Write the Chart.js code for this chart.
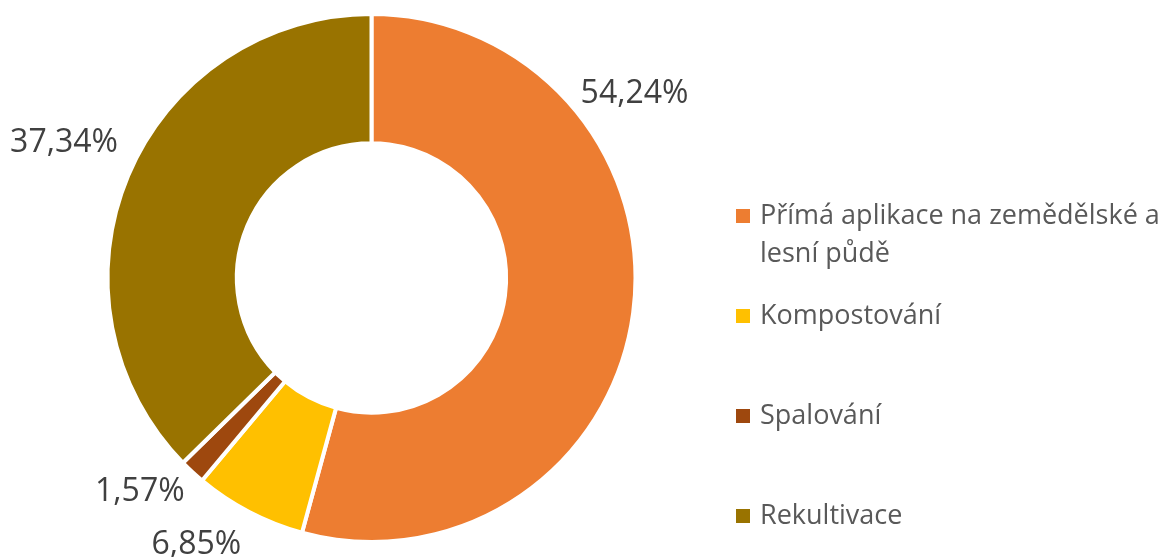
<!DOCTYPE html>
<html lang="cs">
<head>
<meta charset="utf-8">
<title>Nakládání s kaly</title>
<script src="https://cdn.jsdelivr.net/npm/chart.js@4/dist/chart.umd.min.js"></script>
<style>
  html, body { margin: 0; padding: 0; background: #fff; }
  #wrap { width: 1173px; height: 557px; }
</style>
</head>
<body>
<div id="wrap"><canvas id="kalyChart" width="1173" height="557"></canvas></div>
<script>
const categories = ['Přímá aplikace na zemědělské a lesní půdě', 'Kompostování', 'Spalování', 'Rekultivace'];
const legendLines = [['Přímá aplikace na zemědělské a', 'lesní půdě'], ['Kompostování'], ['Spalování'], ['Rekultivace']];
const shares = [54.24, 6.85, 1.57, 37.34];
const colors = ['#ED7D31', '#FFC000', '#9E480E', '#997300'];

const FONT = '"Open Sans", "Noto Sans", sans-serif';

// popisky procent vně prstence (úhel posunut u velkého dílu, jako v Excelu)
const labelShift = [-42.6, 5.7, 4.6, 1.0];
const labelGap = [57, 55, 51, 72];

const percentLabels = {
  id: 'percentLabels',
  afterDatasetsDraw(chart) {
    const ctx = chart.ctx;
    const meta = chart.getDatasetMeta(0);
    ctx.save();
    ctx.font = '32px ' + FONT;
    ctx.fillStyle = '#404040';
    ctx.textAlign = 'center';
    ctx.textBaseline = 'middle';
    meta.data.forEach((arc, i) => {
      const p = arc.getProps(['x', 'y', 'startAngle', 'endAngle', 'outerRadius'], true);
      const a = (p.startAngle + p.endAngle) / 2 + labelShift[i] * Math.PI / 180;
      const r = p.outerRadius + labelGap[i];
      const txt = shares[i].toFixed(2).replace('.', ',') + '%';
      ctx.fillText(txt, p.x + r * Math.cos(a), p.y + r * Math.sin(a));
    });
    ctx.restore();
  }
};

// legenda vpravo se zalomeným textem
const sideLegend = {
  id: 'sideLegend',
  afterDraw(chart) {
    const ctx = chart.ctx;
    const x0 = 736, y0 = 216, step = 100, lineH = 38, box = 14;
    ctx.save();
    ctx.font = '27px ' + FONT;
    ctx.textBaseline = 'middle';
    ctx.textAlign = 'left';
    categories.forEach((c, i) => {
      const y = y0 + i * step;
      ctx.fillStyle = colors[i];
      ctx.fillRect(x0, y - box / 2, box, box);
      ctx.fillStyle = '#595959';
      legendLines[i].forEach((line, j) => {
        ctx.fillText(line, x0 + 24, y + j * lineH);
      });
    });
    ctx.restore();
  }
};

new Chart(document.getElementById('kalyChart'), {
  type: 'doughnut',
  data: {
    labels: categories,
    datasets: [{
      data: shares,
      backgroundColor: colors,
      borderColor: '#ffffff',
      borderWidth: 4
    }]
  },
  options: {
    responsive: false,
    animation: false,
    cutout: '51%',
    layout: { padding: { top: 12, bottom: 13, left: 105, right: 535 } },
    plugins: {
      legend: { display: false },
      tooltip: { enabled: false }
    }
  },
  plugins: [percentLabels, sideLegend]
});
</script>
</body>
</html>
